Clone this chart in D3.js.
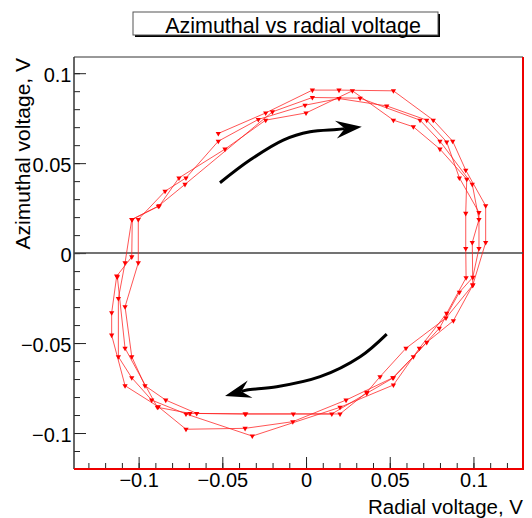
<!DOCTYPE html>
<html>
<head>
<meta charset="utf-8">
<script src="https://cdn.jsdelivr.net/npm/d3@7"></script>
<style>
  body { margin: 0; background: #fff; }
  text { font-family: "Liberation Sans", Arial, sans-serif; fill: #000; }
</style>
</head>
<body>
<svg id="chart" width="532" height="518"></svg>
<script>
// radial (x) / azimuthal (y) voltage, in V, loop by loop
var radial = [
  // loop 1
  -0.0524, -0.0241, 0.0038, 0.0197, 0.0522, 0.0760, 0.0876, 0.0954, 0.1073, 0.1073,
  0.0996, 0.0880, 0.0721, 0.0522, 0.0363, 0.0154, -0.0076, -0.0364, -0.0653, -0.0838,
  -0.0962, -0.1041, -0.1081, -0.1002, -0.1002, -0.0842, -0.0717,
  // loop 2
  -0.0524, -0.0285, -0.0006, 0.0197, 0.0482, 0.0721, 0.0840, 0.0916, 0.1033, 0.1033,
  0.0996, 0.0916, 0.0796, 0.0641, 0.0518, 0.0239, -0.0079, -0.0364, -0.0717, -0.0882,
  -0.1081, -0.1161, -0.1161, -0.1131, -0.1041, -0.1038, -0.0876, -0.0759,
  // loop 3
  -0.0484, -0.0241, 0.0000, 0.0277, 0.0522, 0.0641, 0.0800, 0.0960, 0.0954, 0.0954,
  0.0956, 0.0840, 0.0677, 0.0522, 0.0203, -0.0321, -0.0717, -0.0922, -0.1041, -0.1121,
  -0.1121, -0.1081, -0.1041, -0.0882, -0.0723,
  // loop 4 (partial)
  -0.0201, 0.0038, 0.0323, 0.0681, 0.0800, 0.0993, 0.1033, 0.0993, 0.0996, 0.0836,
  0.0597, 0.0442, 0.0363, 0.0203, -0.0360, -0.0693, -0.0888, -0.1081, -0.1127
];
var azimuthal = [
  0.0665, 0.0779, 0.0906, 0.0906, 0.0902, 0.0739, 0.0622, 0.0461, 0.0263, 0.0059,
  -0.0178, -0.0376, -0.0496, -0.0693, -0.0779, -0.0894, -0.0894, -0.0894, -0.0891, -0.0817,
  -0.0737, -0.0576, -0.0298, -0.0054, 0.0187, 0.0344, 0.0418,

  0.0622, 0.0743, 0.0822, 0.0859, 0.0818, 0.0739, 0.0618, 0.0418, 0.0226, 0.0026,
  -0.0135, -0.0218, -0.0418, -0.0576, -0.0693, -0.0817, -0.0937, -0.0974, -0.0979, -0.0854,
  -0.0737, -0.0456, -0.0332, -0.0128, -0.0021, 0.0187, 0.0263, 0.0418,

  0.0578, 0.0739, 0.0779, 0.0902, 0.0739, 0.0702, 0.0578, 0.0411, 0.0221, 0.0026,
  -0.0137, -0.0335, -0.0529, -0.0733, -0.0857, -0.1017, -0.0894, -0.0817, -0.0693, -0.0576,
  -0.0252, -0.0054, 0.0187, 0.0261, 0.0382,

  0.0785, 0.0865, 0.0861, 0.0739, 0.0622, 0.0382, 0.0187, 0.0059, -0.0178, -0.0361,
  -0.0529, -0.0687, -0.0774, -0.0894, -0.0894, -0.0891, -0.0857, -0.0529, -0.0132
];

// direction arrows (annotation), in data units
var arrowTop = [[-0.0514, 0.0391], [-0.0335, 0.0517], [-0.0136, 0.0628], [0.0024, 0.0674], [0.0183, 0.0687], [0.0333, 0.0702]];
var arrowBottom = [[0.0482, -0.0450], [0.0323, -0.0576], [0.0084, -0.0687], [-0.0175, -0.0743], [-0.0354, -0.0761], [-0.0484, -0.0794]];

var xMajor = [-0.1, -0.05, 0, 0.05, 0.1];
var yMajor = [-0.1, -0.05, 0, 0.05, 0.1];
var xMinor = d3.range(-13, 13).map(function (i) { return i / 100; });
var yMinor = d3.range(-11, 11).map(function (i) { return i / 100; });

var titleText = "Azimuthal vs radial voltage",
    xTitle = "Radial voltage, V",
    yTitle = "Azimuthal voltage, V";

var padL = 74, padR = 523, padT = 57, padB = 469;

var svg = d3.select("#chart");

var x = d3.scaleLinear().domain([-0.1386, 0.1296]).range([padL, padR]),
    y = d3.scaleLinear().domain([-0.12, 0.109]).range([padB, padT]),
    fmt = d3.format("~g");

// minor ticks
svg.append("g")
    .attr("transform", "translate(0," + padB + ")")
    .call(d3.axisBottom(x).tickValues(xMinor).tickSize(-6).tickFormat(""))
    .call(function (g) { g.select(".domain").remove(); g.selectAll("line").attr("stroke", "#222"); });
svg.append("g")
    .attr("transform", "translate(" + padL + ",0)")
    .call(d3.axisLeft(y).tickValues(yMinor).tickSize(-6).tickFormat(""))
    .call(function (g) { g.select(".domain").remove(); g.selectAll("line").attr("stroke", "#222"); });

// major ticks + labels
svg.append("g")
    .attr("transform", "translate(0," + padB + ")")
    .call(d3.axisBottom(x).tickValues(xMajor).tickSize(-12).tickPadding(4).tickFormat(fmt))
    .call(function (g) {
      g.select(".domain").remove();
      g.selectAll("line").attr("stroke", "#222");
      g.selectAll("text").attr("font-size", 20).attr("fill", "#000")
        .style("font-family", "'Liberation Sans', Arial, sans-serif");
    });
svg.append("g")
    .attr("transform", "translate(" + padL + ",0)")
    .call(d3.axisLeft(y).tickValues(yMajor).tickSize(-12).tickPadding(2.5).tickFormat(fmt))
    .call(function (g) {
      g.select(".domain").remove();
      g.selectAll("line").attr("stroke", "#222");
      g.selectAll("text").attr("font-size", 20).attr("dy", "0.4em").attr("fill", "#000")
        .style("font-family", "'Liberation Sans', Arial, sans-serif");
    });

// frame
svg.append("line").attr("x1", padL).attr("x2", padL).attr("y1", padT).attr("y2", padB)
    .attr("stroke", "#333").attr("stroke-width", 1.5);
svg.append("line").attr("x1", padL).attr("x2", padR).attr("y1", padT).attr("y2", padT)
    .attr("stroke", "#333").attr("stroke-width", 1);
svg.append("line").attr("x1", padL).attr("x2", padR + 1).attr("y1", padB).attr("y2", padB)
    .attr("stroke", "#e00").attr("stroke-width", 2);
svg.append("line").attr("x1", padR).attr("x2", padR).attr("y1", padT).attr("y2", padB)
    .attr("stroke", "#e00").attr("stroke-width", 2);

// zero line
svg.append("line").attr("x1", padL).attr("x2", padR).attr("y1", y(0)).attr("y2", y(0))
    .attr("stroke", "#444").attr("stroke-width", 1.5);

// the loop
var pts = radial.map(function (r, i) { return [r, azimuthal[i]]; });
svg.append("path")
    .datum(pts)
    .attr("d", d3.line().x(function (d) { return x(d[0]); }).y(function (d) { return y(d[1]); }))
    .attr("fill", "none")
    .attr("stroke", "#ff2020")
    .attr("stroke-width", 0.9)
    .attr("stroke-opacity", 0.85);
svg.append("g").selectAll("path")
    .data(pts)
    .join("path")
    .attr("d", d3.symbol(d3.symbolTriangle, 12))
    .attr("transform", function (d) { return "translate(" + x(d[0]) + "," + y(d[1]) + ") rotate(180)"; })
    .attr("fill", "#f00");

// arrows
function drawArrow(data) {
  var p = data.map(function (d) { return [x(d[0]), y(d[1])]; }),
      tip = p[p.length - 1], prev = p[p.length - 2],
      ang = Math.atan2(tip[1] - prev[1], tip[0] - prev[0]),
      len = 26, half = 9, notch = 17,
      c = Math.cos(ang), s = Math.sin(ang),
      bx = tip[0] - len * c, by = tip[1] - len * s,
      nx = tip[0] - notch * c, ny = tip[1] - notch * s;
  var shaft = p.slice(0, -1).concat([[nx, ny]]);
  svg.append("path")
      .attr("d", d3.line().curve(d3.curveCatmullRom)(shaft))
      .attr("fill", "none").attr("stroke", "#000").attr("stroke-width", 3);
  svg.append("path")
      .attr("d", "M" + tip[0] + "," + tip[1] +
                 "L" + (bx - half * s) + "," + (by + half * c) +
                 "L" + nx + "," + ny +
                 "L" + (bx + half * s) + "," + (by - half * c) + "Z")
      .attr("fill", "#000");
}
drawArrow(arrowTop);
drawArrow(arrowBottom);

// title box
svg.append("rect").attr("x", 135).attr("y", 14).attr("width", 305).attr("height", 23).attr("fill", "#000");
svg.append("rect").attr("x", 133).attr("y", 12).attr("width", 305).attr("height", 23)
    .attr("fill", "#fff").attr("stroke", "#555").attr("stroke-width", 1);
svg.append("text").attr("x", 293).attr("y", 33).attr("text-anchor", "middle")
    .attr("font-size", 21.5).text(titleText);

// axis titles
svg.append("text").attr("x", padR).attr("y", 514).attr("text-anchor", "end")
    .attr("font-size", 20.5).text(xTitle);
svg.append("text").attr("transform", "translate(30," + (padT + 1) + ") rotate(-90)")
    .attr("text-anchor", "end").attr("font-size", 21).text(yTitle);
</script>
</body>
</html>
